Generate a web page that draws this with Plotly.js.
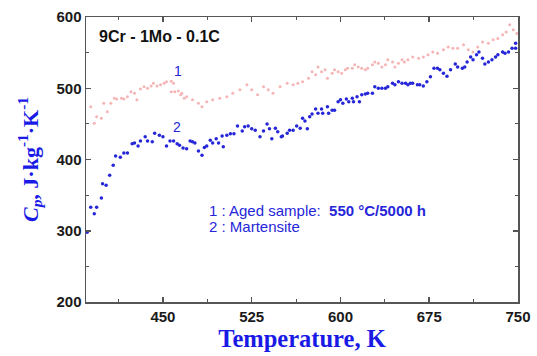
<!DOCTYPE html>
<html><head><meta charset="utf-8">
<script src="https://cdn.plot.ly/plotly-3.0.1.min.js"></script>
<style>html,body{margin:0;padding:0;background:#fff}#c{width:537px;height:356px}</style>
</head><body><div id="c"></div>
<script>
// Series 2: Martensite (blue)
const tempMart = [386,389,392,394,398,399,402,405,408,410,414,417,420,424,426,429,431,435,437,441,443,447,450,453,456,459,462,464,467,470,473,475,477,480,483,485,487,490,492,495,497,500,501,504,507,510,513,517,519,522,525,528,532,535,538,540,542,545,547,550,551,555,557,560,563,566,568,570,572,574,576,579,581,584,585,589,590,593,595,598,600,602,605,607,610,611,614,616,618,621,623,627,629,632,635,638,640,644,646,649,652,655,657,659,661,665,667,670,673,676,679,682,684,687,690,693,697,699,703,705,707,710,712,715,717,720,722,725,728,731,733,737,739,742,745,748,748];
const cpMart = [298,333,324,333,346,366,364,378,392,405,403,409,409,422,423,419,426,432,426,425,437,434,432,419,426,426,422,420,416,415,426,425,423,412,406,417,419,427,423,429,423,433,418,434,436,436,447,440,446,447,443,441,432,440,450,443,429,444,439,432,433,437,441,441,447,444,458,454,443,460,464,471,465,471,465,474,465,469,469,481,484,479,485,481,486,481,488,481,491,492,493,493,502,500,500,500,502,507,505,509,507,507,505,507,507,505,505,503,509,516,528,528,526,521,517,526,534,530,528,530,537,544,540,547,551,542,534,537,540,544,547,551,549,551,556,556,563];
// Series 1: Aged sample 550 °C/5000 h (pink)
const tempAged = [389,392,394,398,400,403,406,409,411,415,417,420,423,426,428,431,434,437,440,442,445,448,451,453,457,459,457,460,463,465,466,468,470,475,480,483,487,492,498,504,509,515,521,525,530,535,539,543,549,555,560,564,568,573,576,579,581,584,587,589,593,595,598,601,604,606,610,612,615,618,621,623,627,629,632,635,638,640,644,646,649,652,654,657,661,666,670,674,678,682,687,691,695,699,704,708,712,716,720,725,729,733,737,740,743,746,749];
const cpAged = [474,451,460,458,479,467,479,486,485,486,485,488,495,493,484,499,502,500,503,507,503,505,507,509,510,507,495,495,496,491,493,486,488,484,479,474,481,484,486,488,493,498,505,498,491,502,498,493,502,507,505,507,509,514,523,519,530,523,526,514,521,526,523,521,526,528,528,533,530,528,526,528,533,537,535,530,533,540,537,530,535,540,537,540,544,542,544,547,551,549,554,558,556,556,561,554,551,558,565,563,568,570,575,579,589,582,577];
const xTicks = [450,525,600,675,750];
const yTicks = [200,300,400,500,600];

const blue = '#2626d9';
const pink = '#f5b5b5';
const data = [
  {x: tempAged, y: cpAged, mode: 'markers', type: 'scatter', name: '1',
   marker: {color: pink, size: 3}},
  {x: tempMart, y: cpMart, mode: 'markers', type: 'scatter', name: '2',
   marker: {color: blue, size: 3.5}}
];
const axisCommon = {
  showline: true, linecolor: '#555', linewidth: 1.5, mirror: 'ticks',
  ticks: 'inside', ticklen: 5, tickcolor: '#555', tickwidth: 1.5,
  showgrid: false, zeroline: false,
  tickfont: {family: 'Liberation Sans, Arial, sans-serif', size: 15, color: '#1a1a1a', weight: 'bold'},
  minor: {ticks: 'inside', ticklen: 3, tickcolor: '#555', tickwidth: 1}
};
const layout = {
  width: 537, height: 356,
  margin: {l: 86, r: 19, t: 17, b: 54},
  paper_bgcolor: '#fff', plot_bgcolor: '#fff',
  showlegend: false,
  xaxis: Object.assign({}, axisCommon, {
    range: [385, 750], tickvals: xTicks, ticktext: xTicks.map(String),
    minor: Object.assign({}, axisCommon.minor, {dtick: 37.5, tick0: 375}),
    title: {text: '<b>Temperature, K</b>', standoff: 6,
      font: {family: 'Liberation Serif, Times New Roman, serif', size: 24.5, color: '#1a1ae6'}}
  }),
  yaxis: Object.assign({}, axisCommon, {
    range: [200, 600], tickvals: yTicks, ticktext: yTicks.map(String),
    minor: Object.assign({}, axisCommon.minor, {dtick: 50, tick0: 200}),
    title: {text: '<b><i>C</i><sub><i>p</i></sub>, J\u00b7kg<sup>-1</sup>\u00b7K<sup>-1</sup></b>', standoff: 12,
      font: {family: 'Liberation Serif, Times New Roman, serif', size: 22, color: '#1a1ae6'}}
  }),
  annotations: [
    {xref: 'paper', yref: 'paper', x: 0.025, y: 0.93, xanchor: 'left', yanchor: 'middle', showarrow: false,
     text: '<b>9Cr - 1Mo - 0.1C</b>', font: {family: 'Liberation Sans, Arial, sans-serif', size: 16, color: '#111'}},
    {x: 463, y: 510, xref: 'x', yref: 'y', showarrow: false, yanchor: 'bottom', text: '1',
     font: {family: 'Liberation Sans, Arial, sans-serif', size: 14, color: blue}},
    {x: 462, y: 432, xref: 'x', yref: 'y', showarrow: false, yanchor: 'bottom', text: '2',
     font: {family: 'Liberation Sans, Arial, sans-serif', size: 14, color: blue}},
    {x: 487, y: 329, xref: 'x', yref: 'y', showarrow: false, xanchor: 'left', yanchor: 'middle',
     text: '1 : Aged sample:  <b>550 \u00b0C/5000 h</b>',
     font: {family: 'Liberation Sans, Arial, sans-serif', size: 15, color: blue}},
    {x: 487, y: 306.5, xref: 'x', yref: 'y', showarrow: false, xanchor: 'left', yanchor: 'middle',
     text: '2 : Martensite',
     font: {family: 'Liberation Sans, Arial, sans-serif', size: 15, color: blue}}
  ]
};
Plotly.newPlot('c', data, layout, {displayModeBar: false, staticPlot: true});
</script></body></html>
